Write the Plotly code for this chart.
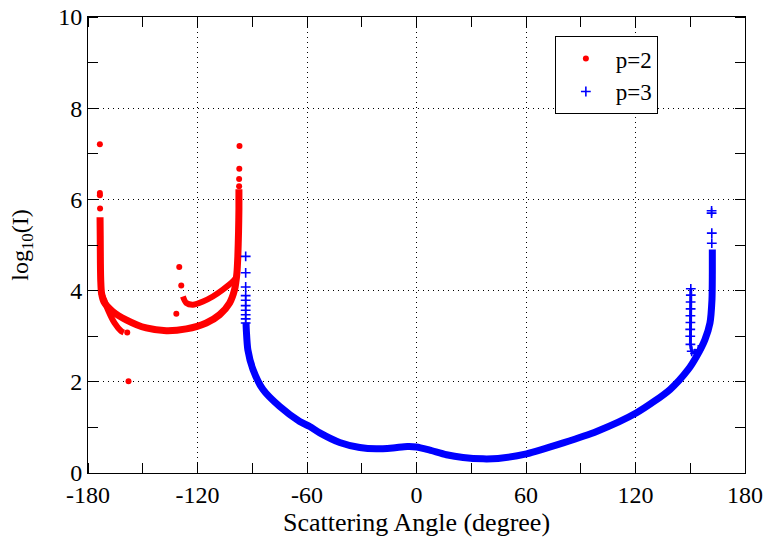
import plotly.graph_objects as go

# ---------------- data ----------------
# p=2 (red): dense bands
red_band_x = [-173.4, -173.3, -173.2, -173.0, -172.6, -171.2, -166.4, -159.1, -148.1,
              -137.1, -126.1, -115.2, -107.9, -102.4, -99.7, -98.4, -97.9, -97.5, -97.3, -97.3]
red_band_y = [5.61, 5.20, 4.60, 4.20, 3.95, 3.75, 3.54, 3.36, 3.18,
              3.12, 3.16, 3.29, 3.47, 3.73, 4.02, 4.39, 4.75, 5.30, 5.80, 6.22]
red_tail_x = [-172.8, -171.2, -169.1, -165.5, -161.8, -160.4]
red_tail_y = [3.95, 3.80, 3.58, 3.29, 3.11, 3.08]
red_upper_x = [-128.0, -126.2, -122.5, -117.0, -111.6, -106.1, -100.6, -98.4]
red_upper_y = [3.87, 3.73, 3.69, 3.76, 3.87, 4.02, 4.20, 4.31]
# p=2 (red): isolated points
red_pts_x = [-173.5, -173.5, -173.5, -173.4, -97.0, -97.1, -97.2, -97.2,
             -130.0, -128.9, -131.6, -157.8, -158.5]
red_pts_y = [7.21, 6.14, 6.09, 5.80, 7.17, 6.67, 6.45, 6.29,
             4.52, 4.11, 3.49, 2.01, 3.08]

# p=3 (blue): main band
blue_band_x = [-93.4, -93.2, -92.4, -89.6, -84.1, -75.0, -64.0, -58.5, -53.0, -42.1,
               -31.1, -22.0, -12.9, -5.0, 0.0, 7.3, 16.4, 25.5, 36.5, 44.7,
               60.3, 80.4, 98.7, 120.6, 138.9, 148.9, 153.5, 158.0, 160.8, 161.9,
               162.1, 162.1]
blue_band_y = [3.30, 3.10, 2.70, 2.27, 1.83, 1.46, 1.13, 1.02, 0.88, 0.67,
               0.56, 0.53, 0.55, 0.58, 0.57, 0.50, 0.40, 0.34, 0.31, 0.32,
               0.42, 0.66, 0.91, 1.32, 1.83, 2.27, 2.56, 2.92, 3.29, 3.80,
               4.39, 4.90]
# p=3 (blue): spike near 150 degrees with its hook
blue_spike_x = [150.3, 150.3, 150.2, 150.2, 150.1, 150.1, 150.0, 150.0, 150.1, 150.8, 152.6, 154.4]
blue_spike_y = [4.04, 3.90, 3.75, 3.60, 3.45, 3.30, 3.15, 3.00, 2.82, 2.67, 2.62, 2.70]
# p=3 (blue): isolated points
blue_pts_x = [-93.6, -93.6, -93.6, -93.6, -93.6, -93.6, -93.6, -93.6, -93.6, -93.6,
              161.7, 161.7, 161.8, 161.8]
blue_pts_y = [4.75, 4.39, 4.08, 3.89, 3.79, 3.67, 3.57, 3.47, 3.38, 3.29,
              5.75, 5.70, 5.26, 5.04]

x_ticks = [-180, -120, -60, 0, 60, 120, 180]
y_ticks = [0, 2, 4, 6, 8, 10]

RED = "#ff0000"
BLUE = "#0000ff"
FONT = "'Liberation Serif', 'Times New Roman', Times, serif"

fig = go.Figure()

def band(x, y, color, width):
    fig.add_trace(go.Scatter(x=x, y=y, mode="lines",
                             line=dict(color=color, width=width, shape="spline", smoothing=0.7),
                             showlegend=False, hoverinfo="skip"))

fig.add_trace(go.Scatter(x=red_pts_x, y=red_pts_y, mode="markers", name="p=2",
                         marker=dict(color=RED, size=6, symbol="circle"), legendrank=1))
band(red_band_x, red_band_y, RED, 7)
band(red_tail_x, red_tail_y, RED, 6)
band(red_upper_x, red_upper_y, RED, 6)

fig.add_trace(go.Scatter(x=blue_pts_x, y=blue_pts_y, mode="markers", name="p=3",
                         marker=dict(color=BLUE, size=7, symbol="cross-thin",
                                     line=dict(color=BLUE, width=1.6)), legendrank=2))
band(blue_band_x, blue_band_y, BLUE, 7)
fig.add_trace(go.Scatter(x=blue_spike_x, y=blue_spike_y, mode="lines+markers",
                         line=dict(color=BLUE, width=3),
                         marker=dict(color=BLUE, size=7, symbol="cross-thin",
                                     line=dict(color=BLUE, width=1.6)),
                         showlegend=False, hoverinfo="skip"))

axis_common = dict(
    showline=True, linecolor="black", linewidth=1, mirror="ticks",
    showgrid=True, gridcolor="black", gridwidth=1, griddash="1px,4px",
    zeroline=False, ticks="", tickfont=dict(family=FONT, size=24, color="black"),
)

fig.update_xaxes(range=[-180, 180], tickvals=x_ticks, ticktext=[str(v) for v in x_ticks],
                 minor=dict(dtick=30, tick0=-180, ticks="inside", ticklen=10,
                            tickcolor="black", tickwidth=1, showgrid=False),
                 title=dict(text="Scattering Angle (degree)", standoff=2,
                            font=dict(family=FONT, size=26, color="black")),
                 **axis_common)
fig.update_yaxes(range=[0, 10], tickvals=y_ticks, ticktext=[str(v) for v in y_ticks],
                 minor=dict(dtick=1, tick0=0, ticks="inside", ticklen=10,
                            tickcolor="black", tickwidth=1, showgrid=False),
                 title=dict(text="log<sub>10</sub>(I)", standoff=22,
                            font=dict(family=FONT, size=24, color="black")),
                 **axis_common)

fig.update_layout(
    width=769, height=537,
    margin=dict(l=88, r=24, t=17, b=64, autoexpand=False),
    paper_bgcolor="white", plot_bgcolor="white",
    font=dict(family=FONT, color="black"),
    legend=dict(x=0.7106, y=0.958, xanchor="left", yanchor="top",
                bgcolor="white", bordercolor="black", borderwidth=1,
                font=dict(family=FONT, size=23, color="black"),
                itemwidth=50, tracegroupgap=0),
)

fig.write_html("out.html")
